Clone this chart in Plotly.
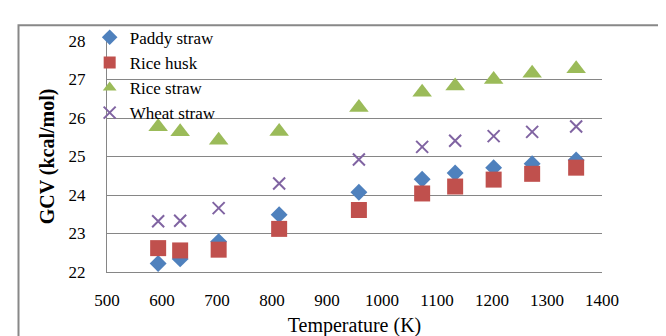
import plotly.graph_objects as go

temperature = [593, 633, 703, 813, 958, 1073, 1133, 1203, 1273, 1353]
paddy_straw = [22.22, 22.34, 22.79, 23.49, 24.07, 24.41, 24.57, 24.71, 24.81, 24.91]
rice_husk = [22.62, 22.56, 22.58, 23.12, 23.61, 24.04, 24.22, 24.40, 24.55, 24.71]
rice_straw = [25.77, 25.64, 25.42, 25.65, 26.27, 26.67, 26.83, 27.00, 27.16, 27.28]
wheat_straw = [23.32, 23.33, 23.66, 24.30, 24.92, 25.25, 25.41, 25.53, 25.64, 25.78]

x_ticks = [500, 600, 700, 800, 900, 1000, 1100, 1200, 1300, 1400]
y_ticks = [22, 23, 24, 25, 26, 27, 28]

W, H = 666, 336
ML, MR, MT, MB = 99, 72, 27, 67
PW, PH = W - ML - MR, H - MT - MB
FONT = "Liberation Serif"
GRID = "#868686"

fig = go.Figure()
fig.add_trace(go.Scatter(x=temperature, y=paddy_straw, mode="markers", name="Paddy straw",
                         marker=dict(symbol="diamond", size=13, color="#4F81BD")))
fig.add_trace(go.Scatter(x=temperature, y=rice_husk, mode="markers", name="Rice husk",
                         marker=dict(symbol="square", size=16, color="#C0504D")))
fig.add_trace(go.Scatter(x=temperature, y=rice_straw, mode="markers", name="Rice straw",
                         marker=dict(symbol="triangle-up", size=17, color="#9BBB59")))
fig.add_trace(go.Scatter(x=temperature, y=wheat_straw, mode="markers", name="Wheat straw",
                         marker=dict(symbol="x-thin", size=12, color="#8064A2",
                                     line=dict(width=2, color="#8064A2"))))

# outer chart frame
fig.add_shape(type="rect", xref="paper", yref="paper",
              x0=(10.5 - ML) / PW, x1=(W + 20 - ML) / PW,
              y0=-(H + 20 - MT - PH) / PH, y1=(H - 10.5 - MB) / PH,
              line=dict(color="#888888", width=2), fillcolor="rgba(0,0,0,0)", layer="below")

fig.update_layout(
    width=W, height=H,
    margin=dict(l=ML, r=MR, t=MT, b=MB),
    paper_bgcolor="white", plot_bgcolor="white",
    font=dict(family=FONT, size=17, color="black"),
    showlegend=True,
    legend=dict(x=-0.035, y=1.092, xanchor="left", yanchor="top",
                bgcolor="rgba(0,0,0,0)", font=dict(size=17, family=FONT),
                itemsizing="constant", tracegroupgap=0),
    xaxis=dict(range=[500, 1400], tickvals=x_ticks, ticktext=[str(v) for v in x_ticks],
               showgrid=False, zeroline=False, showline=True, linecolor=GRID, linewidth=1,
               ticks="", ticklabelstandoff=13,
               title=dict(text="Temperature (K)", font=dict(size=20, family=FONT), standoff=8)),
    yaxis=dict(range=[22, 28], tickvals=y_ticks, ticktext=[str(v) for v in y_ticks],
               showgrid=True, gridcolor=GRID, gridwidth=1, zeroline=False,
               showline=True, linecolor=GRID, linewidth=1, ticks="", ticklabelstandoff=17,
               title=dict(text="<b>GCV (kcal/mol)</b>", font=dict(size=20, family=FONT), standoff=8)),
)

fig.write_html("out.html")
